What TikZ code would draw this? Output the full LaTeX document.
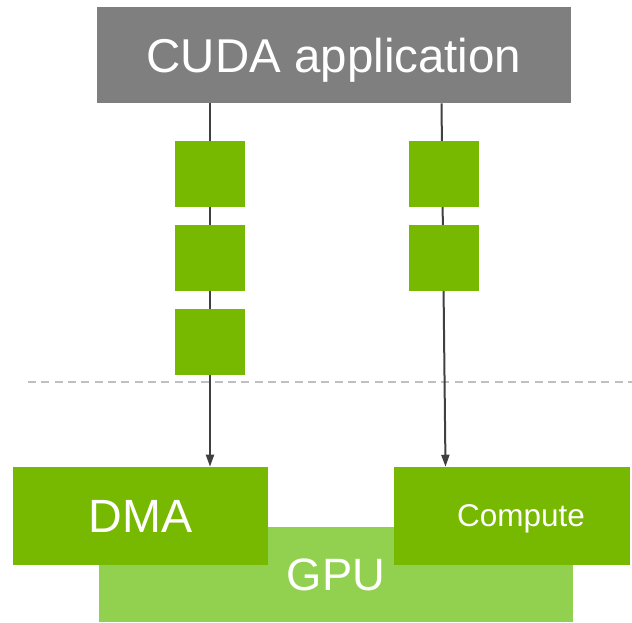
\documentclass[tikz,border=0pt]{standalone}
\usepackage{fontspec}
\setmainfont{Liberation Sans}
\usepackage{tikz}
\usetikzlibrary{arrows.meta,backgrounds}
\definecolor{appgray}{RGB}{127,127,127}
\definecolor{nvgreen}{RGB}{118,185,0}
\definecolor{gpugreen}{RGB}{146,208,80}
\definecolor{flowgray}{RGB}{64,64,64}
\definecolor{dashgray}{RGB}{191,191,191}

\begin{document}
\begin{tikzpicture}[x=0.75pt,y=-0.75pt,
    appbox/.style={fill=appgray,text=white,minimum width=355.5pt,minimum height=72pt,inner sep=0pt,text depth=0pt,font=\fontsize{35.6}{40}\selectfont},
    qbox/.style={fill=nvgreen,minimum width=52.5pt,minimum height=49.5pt,inner sep=0pt},
    engine/.style={fill=nvgreen,text=white,minimum height=73.5pt,inner sep=0pt,text depth=0pt},
    gpubox/.style={fill=gpugreen,text=white,minimum width=355.5pt,minimum height=71.25pt,inner sep=0pt,text depth=0pt,font=\fontsize{34}{38}\selectfont},
    flow/.style={draw=flowgray,line width=1.5pt,-{Triangle[width=6pt,length=9pt]}}]
        \useasboundingbox (0,0) rectangle (632,623);

        \node[appbox] (app) at (334,55) {CUDA application};

        \node[qbox] (lq1) at (210,174) {};
        \node[qbox] (lq2) at (210,258) {};
        \node[qbox] (lq3) at (210,342) {};
        \node[qbox] (rq1) at (443.5,174) {};
        \node[qbox] (rq2) at (443.5,258) {};

        \node[gpubox] (gpu) at (336,574.5) {GPU};
        \node[engine,minimum width=191.25pt,font=\fontsize{35}{40}\selectfont] (dma) at (140.5,516) {DMA};
        \node[engine,minimum width=177pt,font=\fontsize{23.6}{28}\selectfont] (cmp) at (512,516) {\hspace*{13.5pt}Compute};

        \coordinate (dl) at (28,382);
        \coordinate (dr) at (632,382);

        \begin{pgfonlayer}{background}
        \draw[dashgray,line width=1.5pt,dash pattern=on 6pt off 4pt] (dl) -- (dr);
        \draw[flow] (app.south -| lq1.north) -- (dma.north -| lq1.north);
        \draw[flow] ([xshift=-1.5pt]app.south -| rq1.north) -- ([xshift=1.5pt]cmp.north -| rq1.north);
        \end{pgfonlayer}
    \end{tikzpicture}
\end{document}
